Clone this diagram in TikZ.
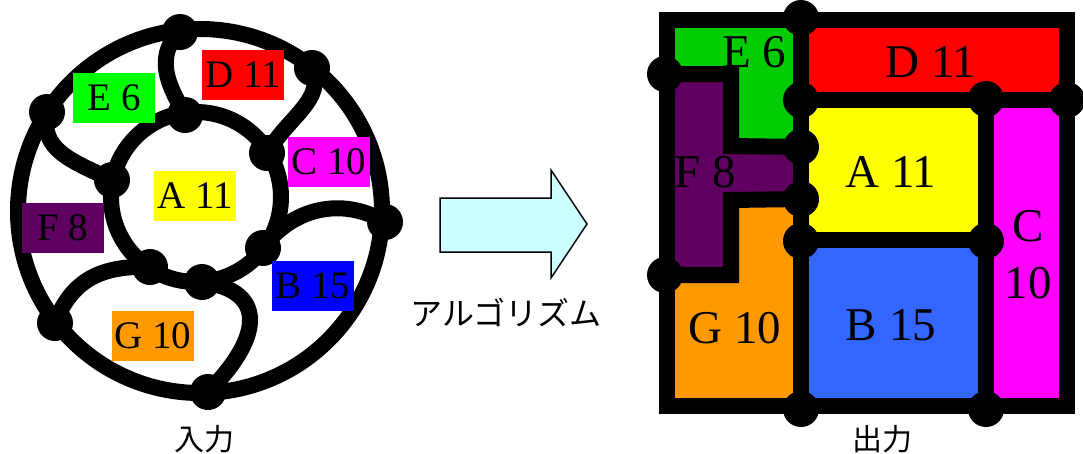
\documentclass[tikz,border=0pt]{standalone}
\usepackage{fontspec}
\setmainfont{Liberation Serif}
\newfontfamily\jpfont{Noto Sans CJK JP}
\pgfdeclarelayer{bg}
\pgfsetlayers{bg,main}
\definecolor{lgreen}{HTML}{00FF00}
\definecolor{dgreen}{HTML}{00CC00}
\definecolor{myred}{HTML}{FF0000}
\definecolor{mymag}{HTML}{FF00FF}
\definecolor{myyel}{HTML}{FFFF00}
\definecolor{mypur}{HTML}{5F0060}
\definecolor{lblue}{HTML}{0000FF}
\definecolor{rblue}{HTML}{3366FF}
\definecolor{myorg}{HTML}{FF9900}
\definecolor{arrowfill}{HTML}{CCFFFF}
\begin{document}
\begin{tikzpicture}[x=1pt,y=-1pt,
  dot/.style={circle,fill=black,minimum size=36pt,inner sep=0pt},
  wire/.style={line width=16pt},
  lab/.style={minimum width=82pt,minimum height=50pt,inner sep=0pt,font=\fontsize{39}{39}\selectfont},
  rlab/.style={inner sep=0pt,font=\fontsize{47}{57}\selectfont},
  jp/.style={inner sep=0pt,font=\jpfont\fontsize{30}{30}\selectfont},
  jpalg/.style={inner sep=0pt,font=\jpfont\fontsize{32}{32}\selectfont}]
\useasboundingbox (0,0) rectangle (1083,453);

% ---------- left: input ----------
\node[dot] (o1) at (180,32) {};
\node[dot] (o2) at (312,68) {};
\node[dot] (o3) at (47,112) {};
\node[dot] (o4) at (385,222) {};
\node[dot] (o5) at (55,323) {};
\node[dot] (o6) at (208,392) {};
\node[dot] (i1) at (185,115) {};
\node[dot] (i2) at (267,153) {};
\node[dot] (i3) at (112,180) {};
\node[dot] (i4) at (263,248) {};
\node[dot] (i5) at (150,267) {};
\node[dot] (i6) at (202,282) {};
\begin{pgfonlayer}{bg}
  \draw[wire] (200,211) circle [radius=182];
  \draw[wire] (196,197) circle [radius=85];
  \draw[wire] (o1.center) .. controls (150,60) and (175,95) .. (i1.center);
  \draw[wire] (o2.center) .. controls (325,100) and (290,115) .. (i2.center);
  \draw[wire] (o3.center) .. controls (40,150) and (70,160) .. (i3.center);
  \draw[wire] (o4.center) .. controls (340,195) and (290,210) .. (i4.center);
  \draw[wire] (o5.center) .. controls (70,285) and (95,265) .. (i5.center);
  \draw[wire] (o6.center) .. controls (265,335) and (265,290) .. (i6.center);
\end{pgfonlayer}
\node[lab,fill=myred] (lD) at (243,74.5) {D 11};
\node[lab,fill=lgreen] (lE) at (114,97.5) {E 6};
\node[lab,fill=mymag] (lC) at (329,161.5) {C 10};
\node[lab,fill=myyel] (lA) at (195,196) {A 11};
\node[lab,fill=mypur] (lF) at (63,228) {F 8};
\node[lab,fill=lblue] (lB) at (313,285.5) {B 15};
\node[lab,fill=myorg] (lG) at (153,336) {G 10};
\node[jp] (inlab) at (204,439) {入力};

% ---------- arrow ----------
\draw[line width=1.5pt,fill=arrowfill,line join=miter]
  (440,198) -- (551,198) -- (551,170) -- (587,224) -- (551,278) -- (551,252) -- (440,252) -- cycle;
\node[jpalg] (alg) at (506,313) {アルゴリズム};

% ---------- right: output ----------
\node[dot] (r1) at (801,18) {};
\node[dot] (r2) at (665,74) {};
\node[dot] (r3) at (665,275) {};
\node[dot] (r4) at (801,100) {};
\node[dot] (r5) at (986,99) {};
\node[dot] (r6) at (1067,100) {};
\node[dot] (r7) at (801,147) {};
\node[dot] (r8) at (801,199) {};
\node[dot] (r9) at (801,241) {};
\node[dot] (r10) at (986,241) {};
\node[dot] (r11) at (801,409) {};
\node[dot] (r12) at (986,409) {};
\begin{pgfonlayer}{bg}
  \fill[dgreen] (667,20) rectangle (801,146);
  \fill[myorg] (667,200) rectangle (801,406);
  \fill[myred] (801,20) rectangle (1067,100);
  \fill[myyel] (801,100) rectangle (986,240);
  \fill[rblue] (801,240) rectangle (986,406);
  \fill[mymag] (986,100) rectangle (1067,406);
  \fill[mypur] (667,74) -- (731,74) -- (731,146) -- (801,146) -- (801,200)
    -- (731,200) -- (731,275) -- (667,275) -- cycle;
  \draw[wire,line join=miter] (667,20) rectangle (1067,406);
  \draw[wire] (r1.center |- 0,20) -- (r11.center |- 0,406);
  \draw[wire] (r4.center) -- (r6.center);
  \draw[wire] (r5.center |- 0,100) -- (r12.center |- 0,406);
  \draw[wire] (r9.center |- 0,240) -- (r10.center |- 0,240);
  \draw[wire,line join=miter] (r2.center) -- (731,74) -- (731,146) -- (r7.center);
  \draw[wire,line join=miter] (r8.center) -- (731,200) -- (731,275) -- (r3.center);
\end{pgfonlayer}
\node[rlab] (tE) at (754,52) {E 6};
\node[rlab] (tD) at (931,62) {D 11};
\node[rlab] (tF) at (705,172) {F 8};
\node[rlab] (tA) at (891,172) {A 11};
\node[rlab,align=center] (tC) at (1028,255) {C\\10};
\node[rlab] (tG) at (735,328) {G 10};
\node[rlab] (tB) at (891,325) {B 15};
\node[jp] (outlab) at (882,439) {出力};
\end{tikzpicture}
\end{document}
